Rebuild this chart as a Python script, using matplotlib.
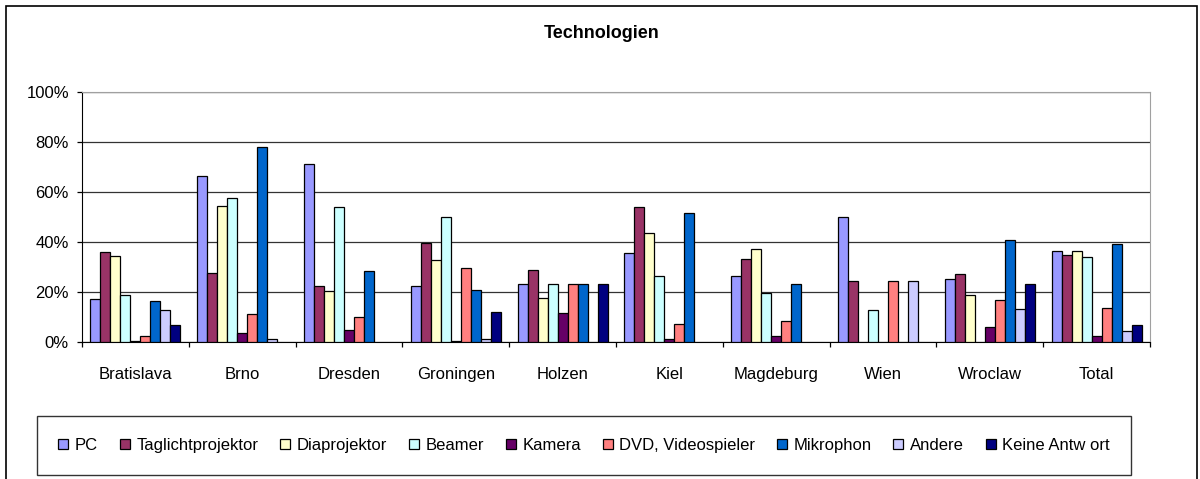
import matplotlib.pyplot as plt
import matplotlib.patches as patches
from matplotlib.ticker import FuncFormatter
import numpy as np

plt.rcParams['font.family'] = ['Liberation Sans', 'DejaVu Sans']

# Data (percent per city)
cities = ['Bratislava', 'Brno', 'Dresden', 'Groningen', 'Holzen',
          'Kiel', 'Magdeburg', 'Wien', 'Wroclaw', 'Total']
series_names = ['PC', 'Taglichtprojektor', 'Diaprojektor', 'Beamer', 'Kamera',
                'DVD, Videospieler', 'Mikrophon', 'Andere', 'Keine Antw ort']

pc          = [17.1, 66.3, 71.3, 22.5, 23.3, 35.5, 26.4, 50.0, 25.1, 36.5]
taglicht    = [35.9, 27.7, 22.5, 39.7, 28.9, 53.9, 33.3, 24.5, 27.3, 34.7]
diaprojekt  = [34.5, 54.3, 20.3, 32.7, 17.6, 43.6, 37.1, 0.0, 19.0, 36.5]
beamer      = [19.0, 57.5, 53.9, 50.0, 23.3, 26.4, 19.5, 12.7, 0.0, 34.0]
kamera      = [0.5, 3.6, 4.9, 0.5, 11.7, 1.1, 2.3, 0.0, 6.1, 2.3]
dvd         = [2.4, 11.3, 10.0, 29.7, 23.3, 7.3, 8.3, 24.5, 16.9, 13.7]
mikrophon   = [16.4, 77.9, 28.4, 20.7, 23.3, 51.7, 23.3, 0.0, 40.9, 39.2]
andere      = [12.7, 1.1, 0.0, 1.1, 0.0, 0.0, 0.0, 24.5, 13.1, 4.4]
keine       = [6.9, 0.0, 0.0, 11.9, 23.3, 0.0, 0.0, 0.0, 23.3, 6.9]

all_series = [pc, taglicht, diaprojekt, beamer, kamera, dvd, mikrophon, andere, keine]
colors = ['#9999FF', '#993366', '#FFFFCC', '#CCFFFF', '#660066',
          '#FF8080', '#0066CC', '#CCCCFF', '#000080']

W, H = 1200, 479
fig = plt.figure(figsize=(W / 100, H / 100), dpi=100)

# outer chart frame
fig.patches.append(patches.Rectangle((6 / W, -0.02), 1191 / W, 1 - 6 / H + 0.02,
                                     transform=fig.transFigure, fill=False,
                                     edgecolor='black', linewidth=1.2))

ax = fig.add_axes([82 / W, (H - 342) / H, 1068 / W, 250 / H])

x = np.arange(len(cities))
bar_w = 0.0935
for i, (vals, col, name) in enumerate(zip(all_series, colors, series_names)):
    offs = (i - 4) * bar_w
    # zero values are not drawn in the original chart
    heights = [v if v > 0 else np.nan for v in vals]
    ax.bar(x + offs, heights, width=bar_w, color=col, edgecolor='black',
           linewidth=0.9, label=name, zorder=3)

ax.set_xlim(-0.5, len(cities) - 0.5)
ax.set_ylim(0, 100)
ax.set_yticks(np.arange(0, 101, 20))
ax.yaxis.set_major_formatter(FuncFormatter(lambda v, p: f'{int(v)}%'))
ax.yaxis.grid(True, color='#333333', linewidth=0.9, zorder=0)

ax.set_xticks(x)
ax.set_xticklabels(cities)
ax.set_xticks(np.arange(-0.5, len(cities), 1.0), minor=True)
ax.tick_params(axis='x', which='major', length=0, pad=18, labelsize=12)
ax.tick_params(axis='x', which='minor', length=3.6, width=0.9, direction='out')
ax.tick_params(axis='y', length=3.6, width=0.9, direction='out', pad=5.8, labelsize=12)

for side in ['top', 'right']:
    ax.spines[side].set_color('#a0a0a0')
for side in ['left', 'bottom']:
    ax.spines[side].set_color('black')

fig.text(602 / W, 1 - 33 / H, 'Technologien', ha='center', va='center',
         fontsize=13, fontweight='bold')

leg = fig.legend(loc='center', bbox_to_anchor=(584 / W, 1 - 445.5 / H), ncol=9,
                 fontsize=12, frameon=True, fancybox=False, handlelength=0.6,
                 handleheight=0.6, handletextpad=0.4, columnspacing=1.3,
                 borderpad=1.3)
leg.get_frame().set_edgecolor('black')
leg.get_frame().set_linewidth(1.0)

fig.savefig('out.png', dpi=100)
